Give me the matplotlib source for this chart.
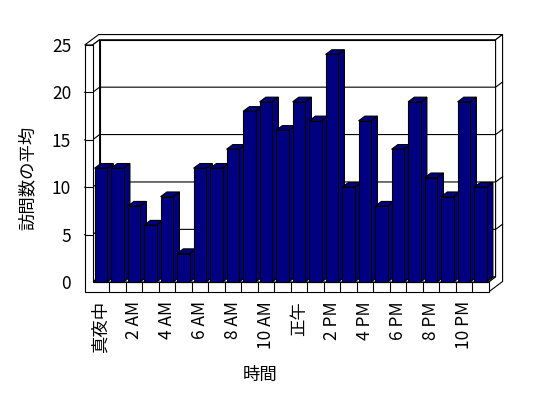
import matplotlib
matplotlib.use("Agg")
import matplotlib.pyplot as plt
from matplotlib.patches import Polygon
import numpy as np

# average visits per hour
hours = np.arange(24)
visits = [12, 12, 8, 6, 9, 3, 12, 12, 14, 18, 19, 16,
          19, 17, 24, 10, 17, 8, 14, 19, 11, 9, 19, 10]
tick_pos = np.arange(0, 24, 2)
tick_labels = ["真夜中", "2 AM", "4 AM", "6 AM", "8 AM", "10 AM",
               "正午", "2 PM", "4 PM", "6 PM", "8 PM", "10 PM"]
y_ticks = [0, 5, 10, 15, 20, 25]

plt.rcParams['font.family'] = ['Noto Sans CJK JP', 'DejaVu Sans']

# fake 3d geometry, in data units
DX, DY = 0.424, 0.55      # shift for one unit of depth
D_OUT = 2.0               # outer depth of back wall
X_LEFT = -0.98            # outer edge of left wall
X_RIGHT = 23.5
FLOOR_T = 1.05
BAR_W = 0.76
BAR_D = 0.9
YMAX = 25
LW = 0.8


def proj(x, y, d):
    return (x + d * DX, y + d * DY)


def face(ax, pts, color='white', z=1):
    ax.add_patch(Polygon(pts, closed=True, facecolor=color, edgecolor='black',
                         linewidth=LW, zorder=z, clip_on=False))


fig = plt.figure(figsize=(5.48, 3.98), dpi=100)
ax = fig.add_axes([0.169, 0.2915, 0.7226, 0.5955])
ax.set_xlim(-0.5, 23.5)
ax.set_ylim(0, YMAX)
for s in ax.spines.values():
    s.set_visible(False)

# back wall
face(ax, [proj(-0.5, 0, 1), proj(X_RIGHT, 0, 1), proj(X_RIGHT, YMAX, 1), proj(-0.5, YMAX, 1)], z=1)
# top of walls
face(ax, [proj(X_LEFT, YMAX, 0), proj(-0.5, YMAX, 0), proj(-0.5, YMAX, 1),
          proj(X_RIGHT, YMAX, 1), proj(X_RIGHT, YMAX, D_OUT), proj(X_LEFT, YMAX, D_OUT)], z=1)
# right end of back wall + floor
face(ax, [proj(X_RIGHT, -FLOOR_T, 0), proj(X_RIGHT, 0, 0), proj(X_RIGHT, 0, 1),
          proj(X_RIGHT, YMAX, 1), proj(X_RIGHT, YMAX, D_OUT), proj(X_RIGHT, -FLOOR_T, D_OUT)], z=1)
# inner face of left wall
face(ax, [proj(-0.5, 0, 0), proj(-0.5, YMAX, 0), proj(-0.5, YMAX, 1), proj(-0.5, 0, 1)], z=1)

# gridlines running across the walls
for g in y_ticks[1:-1]:
    pts = [proj(X_LEFT, g, 0), proj(-0.5, g, 0), proj(-0.5, g, 1),
           proj(X_RIGHT, g, 1), proj(X_RIGHT, g, D_OUT)]
    ax.plot([p[0] for p in pts], [p[1] for p in pts], color='black',
            linewidth=LW, zorder=1.5, clip_on=False)

# floor top
face(ax, [proj(-0.5, 0, 0), proj(X_RIGHT, 0, 0), proj(X_RIGHT, 0, 1), proj(-0.5, 0, 1)], z=1.6)
# front of left wall and floor
face(ax, [(X_LEFT, -FLOOR_T), (X_RIGHT, -FLOOR_T), (X_RIGHT, 0), (-0.5, 0),
          (-0.5, YMAX), (X_LEFT, YMAX)], z=1.7)
for g in y_ticks[1:-1]:
    ax.plot([X_LEFT, -0.5], [g, g], color='black', linewidth=LW, zorder=1.8, clip_on=False)
ax.vlines(hours[:-1] + 0.5, -FLOOR_T, 0, color='black', linewidth=LW, zorder=1.8, clip_on=False)

# bars
bars = ax.bar(hours, visits, width=BAR_W, color='#000080', edgecolor='black', linewidth=LW)
for i, rect in enumerate(bars):
    x0 = rect.get_x()
    x1 = x0 + rect.get_width()
    h = rect.get_height()
    z = 3 + 0.01 * i
    face(ax, [proj(x1, 0, 0), proj(x1, h, 0), proj(x1, h, BAR_D), proj(x1, 0, BAR_D)], '#000080', z)
    face(ax, [proj(x0, h, 0), proj(x1, h, 0), proj(x1, h, BAR_D), proj(x0, h, BAR_D)], '#000080', z + 0.003)
    rect.set_zorder(z + 0.005)
    rect.set_clip_on(False)

ax.set_yticks(y_ticks)
ax.set_xticks(tick_pos)
ax.set_xticklabels(tick_labels, rotation=90)
ax.tick_params(axis='y', length=0, pad=15.5, labelsize=12.5)
ax.tick_params(axis='x', length=0, pad=13.7, labelsize=12.5)

ax.set_ylabel("訪問数の平均", fontsize=12.5, va='center')
ax.yaxis.set_label_coords(-0.163, 0.441)
ax.set_xlabel("時間", fontsize=12.5, va='center')
ax.xaxis.set_label_coords(0.423, -0.392)

fig.savefig("out.png", dpi=100, facecolor='white')
